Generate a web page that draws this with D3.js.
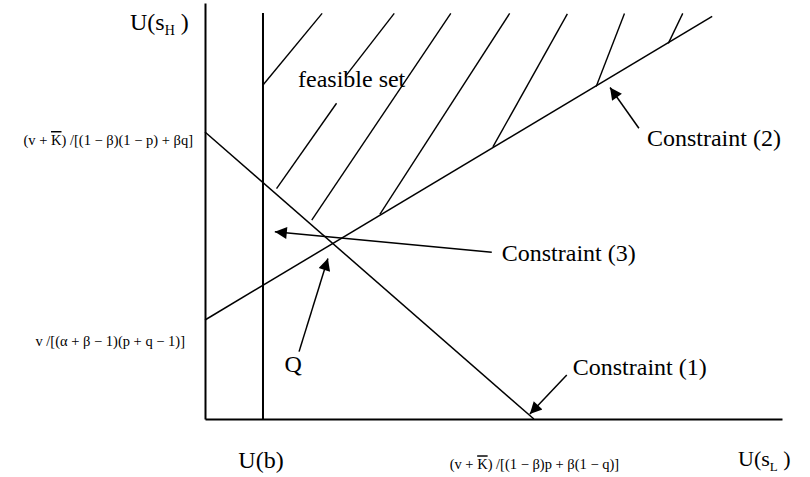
<!DOCTYPE html>
<html lang="en">

<head>
    <meta charset="UTF-8">
    <title>Feasible set</title>
    <script src="https://d3js.org/d3.v7.min.js"></script>
    <style>
        body {
            margin: 0;
            background: #fff;
        }

        text {
            font-family: "Liberation Serif", "Times New Roman", serif;
            fill: #000;
        }

        .tick text {
            font-size: 14.5px;
        }
    </style>
</head>

<body>

    <svg width="810" height="477" id="svg1"></svg>

    <script>

        // values in abstract utility units (0-100 on both axes)
        const uB = 10.05;
        const constraint1 = [[0, 69.0], [57.0, 0]];
        const constraint2 = [[0, 23.8], [87.9, 96.8]];
        const ubLine = [[uB, 0], [uB, 97.6]];

        const hatchLines = [
            [[10.05, 80.3], [20.3, 97.5]],
            [[12.4, 55.4], [22.8, 75.9]],
            [[24.3, 82.3], [32.8, 97.5]],
            [[18.5, 47.8], [42.6, 97.5]],
            [[30.3, 49.2], [52.8, 97.5]],
            [[49.9, 65.4], [62.8, 97.4]],
            [[67.8, 79.9], [72.7, 97.5]],
            [[80.3, 90.3], [82.8, 97.5]]
        ];

        const arrowNames = ['Constraint (2)', 'Constraint (3)', 'Q', 'Constraint (1)'];
        const arrowFrom = [[75.2, 69.9], [49.7, 40.1], [16.3, 16.2], [62.7, 10.6]];
        const arrowTo = [[70.2, 79.7], [12.1, 45.0], [21.3, 38.6], [56.3, 1.2]];

        const yTickValues = [67.1, 18.75];
        const yTickLabels = [
            '(v + <tspan style="text-decoration: overline">K</tspan>) /[(1 \u2212 \u03b2)(1 \u2212 p) + \u03b2q]',
            'v /[(\u03b1 + \u03b2 \u2212 1)(p + q \u2212 1)]'
        ];
        const xTickValues = [57.0];
        const xTickLabels = [
            '(v + <tspan style="text-decoration: overline">K</tspan>) /[(1 \u2212 \u03b2)p + \u03b2(1 \u2212 q)]'
        ];

        const svg = d3.select('#svg1');

        const x = d3.scaleLinear().domain([0, 100]).range([205, 782]);
        const y = d3.scaleLinear().domain([0, 100]).range([419, 3]);

        const line = d3.line().x(d => x(d[0])).y(d => y(d[1]));

        svg.append('defs').append('marker')
            .attr('id', 'head')
            .attr('viewBox', '0 0 10 10')
            .attr('refX', 10)
            .attr('refY', 5)
            .attr('markerUnits', 'userSpaceOnUse')
            .attr('markerWidth', 16)
            .attr('markerHeight', 12)
            .attr('orient', 'auto')
            .append('path')
            .attr('d', 'M0,0 L10,5 L0,10 Z')
            .attr('fill', '#000');

        // axes
        const yAxis = svg.append('g')
            .attr('transform', `translate(${x(0)},0)`)
            .call(d3.axisLeft(y).tickValues(yTickValues).tickSize(0).tickPadding(12).tickFormat(''));
        yAxis.select('.domain').attr('stroke', '#000').attr('stroke-width', 2);
        yAxis.selectAll('.tick text')
            .data(yTickLabels)
            .attr('x', (d, i) => i === 0 ? -12 : -20)
            .html(d => d);

        const xAxis = svg.append('g')
            .attr('transform', `translate(0,${y(0)})`)
            .call(d3.axisBottom(x).tickValues(xTickValues).tickSize(0).tickPadding(40).tickFormat(''));
        xAxis.select('.domain').attr('stroke', '#000').attr('stroke-width', 2);
        xAxis.selectAll('.tick text')
            .data(xTickLabels)
            .html(d => d);

        // axis titles
        svg.append('text')
            .attr('x', x(0) - 75)
            .attr('y', 30)
            .style('font-size', '24px')
            .html('U(s<tspan dy="5" style="font-size:14px">H</tspan><tspan dy="-5"> )</tspan>');

        svg.append('text')
            .attr('x', x(100) - 44)
            .attr('y', 466)
            .style('font-size', '22px')
            .html('U(s<tspan dy="5" style="font-size:13px">L</tspan><tspan dy="-5"> )</tspan>');

        svg.append('text')
            .attr('x', x(uB) - 2)
            .attr('y', 468)
            .attr('text-anchor', 'middle')
            .style('font-size', '24px')
            .text('U(b)');

        // hatching of the feasible set
        svg.append('g')
            .selectAll('path')
            .data(hatchLines)
            .enter()
            .append('path')
            .attr('d', line)
            .attr('fill', 'none')
            .attr('stroke', '#000')
            .attr('stroke-width', 1.4);

        // constraint lines
        svg.append('g')
            .selectAll('path')
            .data([constraint1, constraint2, ubLine])
            .enter()
            .append('path')
            .attr('d', line)
            .attr('fill', 'none')
            .attr('stroke', '#000')
            .attr('stroke-width', (d, i) => i === 2 ? 2 : 1.5);

        svg.append('text')
            .attr('x', 298)
            .attr('y', 87)
            .style('font-size', '24px')
            .text('feasible set');

        // annotation arrows
        const arrows = arrowNames.map((name, i) => ({ name: name, from: arrowFrom[i], to: arrowTo[i] }));

        svg.append('g')
            .selectAll('path')
            .data(arrows)
            .enter()
            .append('path')
            .attr('d', d => line([d.from, d.to]))
            .attr('stroke', '#000')
            .attr('stroke-width', 1.5)
            .attr('marker-end', 'url(#head)');

        const labelOffset = {
            'Constraint (2)': [8, 18, 'start'],
            'Constraint (3)': [10, 9, 'start'],
            'Q': [-6, 20, 'middle'],
            'Constraint (1)': [6, 0, 'start']
        };

        svg.append('g')
            .selectAll('text')
            .data(arrows)
            .enter()
            .append('text')
            .attr('x', d => x(d.from[0]) + labelOffset[d.name][0])
            .attr('y', d => y(d.from[1]) + labelOffset[d.name][1])
            .attr('text-anchor', d => labelOffset[d.name][2])
            .style('font-size', '24px')
            .text(d => d.name);

    </script>

</body>

</html>
